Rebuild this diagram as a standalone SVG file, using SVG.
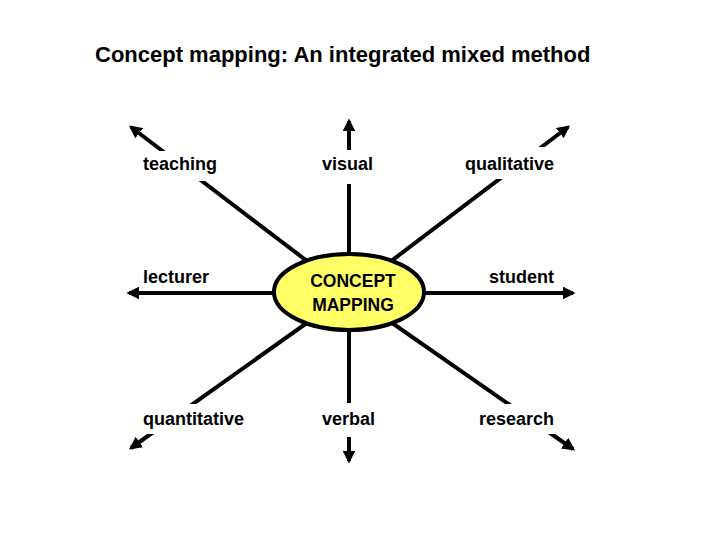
<svg xmlns="http://www.w3.org/2000/svg" width="720" height="540" viewBox="0 0 720 540">
<style>
.t{font-family:"Liberation Sans",Arial,sans-serif;font-size:18px;font-weight:bold;fill:#000}
.m{font-size:17.5px}
.title{font-family:"Liberation Sans",Arial,sans-serif;font-size:22px;font-weight:bold;fill:#000}
.c{stroke:#000;stroke-width:4;fill:none;marker-end:url(#ah)}
.bg{fill:#fff}
</style>
<defs>
<marker id="ah" viewBox="0 0 10 10" refX="8" refY="5" markerWidth="3.2" markerHeight="3.2" orient="auto" markerUnits="strokeWidth">
<path d="M0,0 L10,5 L0,10 z" fill="#000"/>
</marker>
</defs>
<rect width="720" height="540" fill="#fff"/>
<text class="title" x="95" y="62">Concept mapping: An integrated mixed method</text>
<g id="connectors">
<line class="c" x1="349" y1="293" x2="131" y2="127"/>
<line class="c" x1="349" y1="293" x2="349" y2="121"/>
<line class="c" x1="349" y1="293" x2="568" y2="127"/>
<line class="c" x1="349" y1="293" x2="129" y2="293"/>
<line class="c" x1="349" y1="293" x2="573" y2="293"/>
<line class="c" x1="349" y1="293" x2="131" y2="448"/>
<line class="c" x1="349" y1="293" x2="349" y2="461"/>
<line class="c" x1="349" y1="293" x2="573" y2="449"/>
</g>
<g id="center">
<ellipse cx="349" cy="292" rx="75" ry="38" fill="#ffff66" stroke="#000" stroke-width="4"/>
<text class="t m" x="353" y="287" text-anchor="middle">CONCEPT</text>
<text class="t m" x="353" y="311" text-anchor="middle">MAPPING</text>
</g>
<g id="teaching"><rect class="bg" x="138" y="151" width="90" height="30"/><text class="t" x="143" y="170">teaching</text></g>
<g id="visual"><rect class="bg" x="318" y="150" width="60" height="34"/><text class="t" x="322" y="170">visual</text></g>
<g id="qualitative"><rect class="bg" x="460" y="147" width="100" height="32"/><text class="t" x="465" y="170">qualitative</text></g>
<g id="lecturer"><text class="t" x="143" y="283">lecturer</text></g>
<g id="student"><text class="t" x="489" y="283">student</text></g>
<g id="quantitative"><rect class="bg" x="138" y="404" width="112" height="30"/><text class="t" x="143" y="425">quantitative</text></g>
<g id="verbal"><rect class="bg" x="318" y="403" width="60" height="34"/><text class="t" x="322" y="425">verbal</text></g>
<g id="research"><rect class="bg" x="474" y="404" width="82" height="30"/><text class="t" x="479" y="425">research</text></g>
</svg>
